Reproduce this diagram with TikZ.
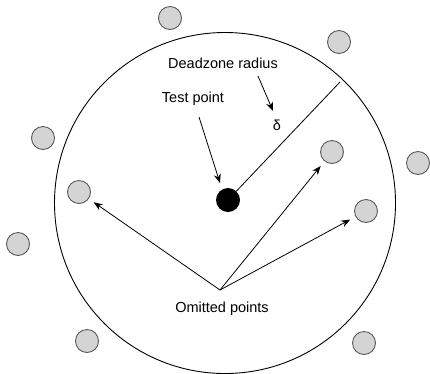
\documentclass[tikz,border=0pt]{standalone}
\usepackage{fontspec}
\setmainfont{Liberation Sans}
\usetikzlibrary{arrows.meta}
\definecolor{ptfill}{HTML}{D4D4D4}
\definecolor{ptline}{HTML}{5E5858}
\begin{document}
\begin{tikzpicture}[x=1pt,y=-1pt,
  pt/.style={circle,draw=ptline,fill=ptfill,line width=0.9pt,minimum size=23pt,inner sep=0pt},
  lbl/.style={font=\fontsize{14.5}{16}\selectfont,inner sep=1pt},
  arr/.style={-{Stealth[length=9pt,width=7pt]},line width=0.8pt},
  ln/.style={line width=0.8pt}]
\useasboundingbox (0,0) rectangle (430,373);
\node[circle,draw,line width=0.9pt,minimum size=341pt,inner sep=0pt] (dz) at (225,203) {};
\node[circle,fill=black,minimum size=24pt,inner sep=0pt] (tp) at (228,200) {};
\node[pt] (p1) at (170,18) {};
\node[pt] (p2) at (339,42) {};
\node[pt] (p3) at (43,138) {};
\node[pt] (p4) at (332,152) {};
\node[pt] (p5) at (418,163) {};
\node[pt] (p6) at (79,192) {};
\node[pt] (p7) at (366,211) {};
\node[pt] (p8) at (18,244) {};
\node[pt] (p9) at (87,341) {};
\node[pt] (p10) at (364,343) {};
\node[lbl] (dzl) at (223,63) {Deadzone radius};
\node[lbl] (tpl) at (193,99) {Test point};
\node[lbl] (dl) at (277,125) {δ};
\node[lbl] (om) at (222,309) {Omitted points};
\coordinate (rim) at (340,82);
\coordinate (hub) at (220,290);
\coordinate (a1s) at (258,76);
\coordinate (a1e) at (273,111);
\coordinate (a2s) at (199,117);
\coordinate (a2e) at (220,183);
\draw[ln] (tp) -- (rim);
\draw[arr] (a1s) -- (a1e);
\draw[arr] (a2s) -- (a2e);
\draw[arr,shorten >=6pt] (hub) -- (p6);
\draw[arr,shorten >=6pt] (hub) -- (p4);
\draw[arr,shorten >=6pt] (hub) -- (p7);
\end{tikzpicture}
\end{document}
